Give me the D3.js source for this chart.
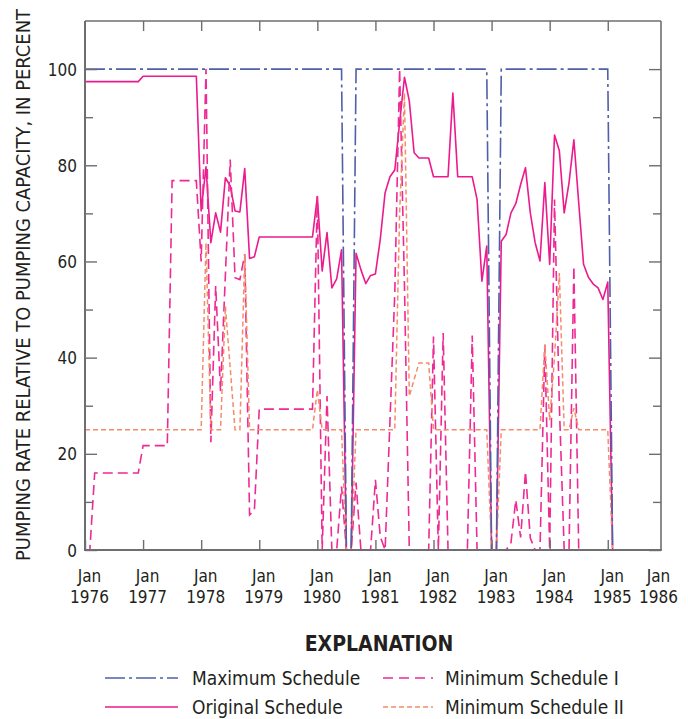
<!DOCTYPE html>
<html>
<head>
<meta charset="utf-8">
<script src="https://cdn.jsdelivr.net/npm/d3@7"></script>
<style>
  html, body { margin: 0; padding: 0; background: #fff; }
  svg { display: block; }
  text { font-family: "Liberation Sans Narrow", "Arial Narrow", "DejaVu Sans Condensed", sans-serif; fill: #231f20; }
</style>
</head>
<body>
<svg id="chart" width="688" height="719"></svg>
<script>
// ---- Data (month index: 0 = Jan 1976) ----
const yearLabels = ["1976","1977","1978","1979","1980","1981","1982","1983","1984","1985","1986"];
const yTickValues = [0, 20, 40, 60, 80, 100];
const yMinorValues = [10, 30, 50, 70, 90];

const maxMonths = [0, 53, 54, 55, 56, 83, 84, 85, 86, 108, 109, 119];
const maxValues = [100, 100, 0, 0, 100, 100, 0, 0, 100, 100, 0, 0];

const origMonths = [0, 11, 12, 23, 24, 25, 26, 27, 28, 29, 30, 31, 32, 33, 34, 35, 36, 47, 48, 49, 50, 51, 52, 53, 54, 55,
  56, 57, 58, 59, 60, 61, 62, 63, 64, 65, 66, 67, 68, 69, 71, 72, 75, 76, 77, 80, 81, 82, 83, 84, 85,
  86, 87, 88, 89, 90, 91, 92, 93, 94, 95, 96, 97, 98, 99, 100, 101, 102, 103, 104, 105, 106, 107, 108, 109, 119];
const origValues = [97.4, 97.4, 98.5, 98.5, 70.5, 79.7, 63.9, 70.1, 66.1, 77.4, 75.7, 70.5, 70.3, 79.3, 60.6, 61, 65.1, 65.1, 73.5, 58, 66, 54.5, 56.4, 62.4, 0, 0,
  61.7, 58.3, 55.4, 57.1, 57.4, 64.6, 74.3, 77.6, 79, 88.9, 98.3, 93.4, 82.6, 81.5, 81.5, 77.6, 77.6, 95, 77.6, 77.6, 72.9, 55.9, 63.2, 0, 0,
  64.2, 65.6, 70.1, 72, 76, 79.5, 70.1, 63.9, 60.1, 76.4, 59.4, 86.3, 83, 70.1, 76.4, 85.3, 72.2, 59.4, 56.7, 55.3, 54.5, 52.1, 55.7, 0, 0];

const minIMonths = [0, 1, 2, 11, 12, 17, 18, 23, 24, 25, 26, 27, 28, 30, 31, 32, 33, 34, 35, 36, 47, 48, 49, 50, 51, 52, 53, 54, 55,
  56, 57, 59, 60, 61, 62, 64, 65, 66, 67, 71, 72, 73, 74, 75, 79, 80, 81, 87, 88, 89, 90, 91, 92, 93, 94, 95, 96, 97, 98, 99, 100, 101, 102, 119];
const minIValues = [0, 0, 16, 16, 21.7, 21.7, 76.8, 76.8, 60, 100, 22.4, 54.9, 33, 81.2, 56.6, 56.2, 61.5, 7.3, 8.3, 29.3, 29.3, 73.6, 0, 32, 0, 0, 13.2, 0, 0,
  14, 0, 0, 14.6, 2.8, 0, 53.5, 100, 55, 0, 0, 44.4, 0, 45.1, 0, 0, 44.6, 0, 0, 1.5, 10.4, 2.6, 16.3, 2.5, 0, 0, 42.7, 0, 72.9, 30, 0, 0, 59, 0, 0];

const minIIMonths = [0, 24, 25, 26, 28, 29, 31, 32, 33, 34, 47, 48, 49, 53, 54, 55, 56, 64, 65, 66, 67, 69, 71, 72, 83, 84, 85, 86,
  94, 95, 96, 97, 98, 99, 100, 101, 102, 108, 109, 119];
const minIIValues = [25, 25, 63.9, 25, 25, 50.7, 25, 25, 61.5, 25, 25, 33.3, 25, 25, 0, 0, 25, 25, 70, 95, 32, 38.9, 38.9, 25, 25, 0, 0, 25,
  25, 42.7, 27, 40, 57.6, 25, 25, 29.5, 25, 25, 0, 0];

const seriesNames = ["Maximum Schedule", "Original Schedule", "Minimum Schedule I", "Minimum Schedule II"];

(function () {
// ---- Layout ----
const svg = d3.select("#chart");
const pLeft = 85, pRight = 661, pTop = 21, pBottom = 550;
const x = d3.scaleLinear().domain([0, 119]).range([pLeft, pRight]).clamp(true);
const y = d3.scaleLinear().domain([0, 110]).range([pBottom, pTop]);

const colors = { max: "#4f5fa9", orig: "#ec1a8d", minI: "#ee2a94", minII: "#f68b6b" };
const axisColor = "#6d6e71";

function zip(ms, vs) { return ms.map((m, i) => [m, vs[i]]); }
const line = d3.line().x(d => x(d[0])).y(d => y(d[1]));

const g = svg.append("g");

// data lines
g.append("path").datum(zip(origMonths, origValues)).attr("d", line)
  .attr("fill", "none").attr("stroke", colors.orig).attr("stroke-width", 1.6).attr("stroke-linejoin", "round");
g.append("path").datum(zip(minIMonths, minIValues)).attr("d", line)
  .attr("fill", "none").attr("stroke", colors.minI).attr("stroke-width", 1.6).attr("stroke-dasharray", "10,5");
g.append("path").datum(zip(minIIMonths, minIIValues)).attr("d", line)
  .attr("fill", "none").attr("stroke", colors.minII).attr("stroke-width", 1.5).attr("stroke-dasharray", "5,3");
g.append("path").datum(zip(maxMonths, maxValues)).attr("d", line)
  .attr("fill", "none").attr("stroke", colors.max).attr("stroke-width", 1.6).attr("stroke-dasharray", "20,4,3,4");

// ---- Axes ----
function styleAxis(sel) {
  sel.select(".domain").remove();
  sel.selectAll(".tick line").attr("stroke", axisColor).attr("stroke-width", 1.4);
}
// left
g.append("g").attr("transform", `translate(${pLeft},0)`)
  .call(d3.axisLeft(y).tickValues(yTickValues).tickSizeInner(-12).tickSizeOuter(0).tickPadding(8))
  .call(styleAxis)
  .call(s => s.selectAll("text").attr("font-size", 17).attr("fill", "#231f20").attr("dy", "0.36em"));
g.append("g").attr("transform", `translate(${pLeft},0)`)
  .call(d3.axisLeft(y).tickValues(yMinorValues).tickSizeInner(-8).tickSizeOuter(0).tickFormat(""))
  .call(styleAxis);
// right
g.append("g").attr("transform", `translate(${pRight},0)`)
  .call(d3.axisRight(y).tickValues(yTickValues).tickSizeInner(-12).tickSizeOuter(0).tickFormat(""))
  .call(styleAxis);
g.append("g").attr("transform", `translate(${pRight},0)`)
  .call(d3.axisRight(y).tickValues(yMinorValues).tickSizeInner(-8).tickSizeOuter(0).tickFormat(""))
  .call(styleAxis);
// top
const yearTicks = d3.range(0, 120, 12);
g.append("g").attr("transform", `translate(0,${pTop})`)
  .call(d3.axisTop(x).tickValues(yearTicks.slice(1)).tickSizeInner(-10).tickSizeOuter(0).tickFormat(""))
  .call(styleAxis);
// bottom
const bottomAxis = g.append("g").attr("transform", `translate(0,${pBottom})`)
  .call(d3.axisBottom(x).tickValues(d3.range(0, 121, 12)).tickSizeInner(-10).tickSizeOuter(0).tickPadding(0)
    .tickFormat(d => yearLabels[d / 12]))
  .call(styleAxis);
bottomAxis.selectAll(".tick").filter(d => d === 120).select("line").remove();
bottomAxis.selectAll(".tick text").each(function(d) {
  const t = d3.select(this);
  const yr = t.text();
  t.text(null).attr("font-size", 17).attr("fill", "#231f20").attr("y", 0).attr("dy", null)
    .attr("text-anchor", "middle");
  const dx = d === 120 ? -3 : 4;
  t.append("tspan").attr("x", dx).attr("y", 32).text("Jan");
  t.append("tspan").attr("x", dx).attr("y", 53).text(yr);
});

// frame
const frame = g.append("g").attr("stroke", axisColor).attr("fill", "none");
frame.append("line").attr("x1", pLeft).attr("x2", pLeft).attr("y1", pTop).attr("y2", pBottom).attr("stroke-width", 2);
frame.append("line").attr("x1", pRight).attr("x2", pRight).attr("y1", pTop).attr("y2", pBottom).attr("stroke-width", 1.6);
frame.append("line").attr("x1", pLeft).attr("x2", pRight).attr("y1", pTop).attr("y2", pTop).attr("stroke-width", 1.6);
frame.append("line").attr("x1", pLeft - 1).attr("x2", pRight + 0.8).attr("y1", pBottom).attr("y2", pBottom).attr("stroke-width", 2);

// y axis title
svg.append("text")
  .attr("transform", `translate(30,${(8 + 562) / 2}) rotate(-90)`)
  .attr("text-anchor", "middle")
  .attr("font-size", 20)
  .attr("textLength", 552).attr("lengthAdjust", "spacingAndGlyphs")
  .text("PUMPING RATE RELATIVE TO PUMPING CAPACITY, IN PERCENT");

// ---- Legend ----
const legend = svg.append("g");
legend.append("text").attr("x", 379).attr("y", 651).attr("text-anchor", "middle")
  .attr("font-size", 21).attr("font-weight", "bold").text("EXPLANATION");

const legendItems = [
  { name: seriesNames[0], color: colors.max, dash: "20,4,3,4", x1: 105, x2: 178, ly: 678, tx: 192, sw: 1.6 },
  { name: seriesNames[1], color: colors.orig, dash: null, x1: 105, x2: 178, ly: 707, tx: 192, sw: 1.6 },
  { name: seriesNames[2], color: colors.minI, dash: "10,6", x1: 383, x2: 433, ly: 678, tx: 445, sw: 1.6 },
  { name: seriesNames[3], color: colors.minII, dash: "5,3", x1: 383, x2: 433, ly: 707, tx: 445, sw: 1.5 }
];
legendItems.forEach(it => {
  legend.append("line").attr("x1", it.x1).attr("x2", it.x2).attr("y1", it.ly).attr("y2", it.ly)
    .attr("stroke", it.color).attr("stroke-width", it.sw).attr("stroke-dasharray", it.dash);
  legend.append("text").attr("x", it.tx).attr("y", it.ly + 7).attr("font-size", 19).text(it.name);
});
})();
</script>
</body>
</html>
